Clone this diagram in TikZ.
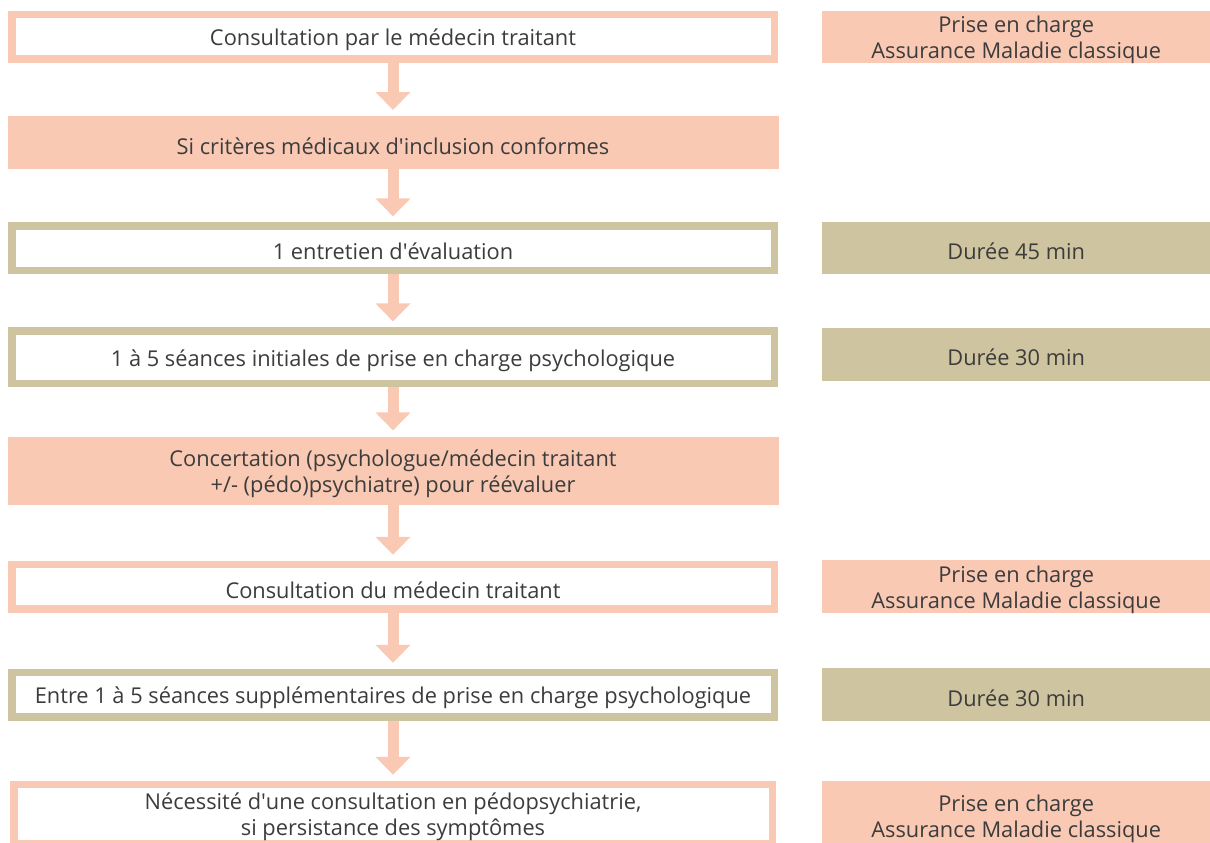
\documentclass[tikz,border=0pt]{standalone}
\usepackage{fontspec}
\setmainfont{Open Sans}
\usetikzlibrary{arrows.meta,positioning}

\definecolor{saumon}{HTML}{F9C9B4}
\definecolor{sable}{HTML}{CEC4A0}
\definecolor{texte}{HTML}{3C3C3C}
\newcommand{\apos}{\textquotesingle}
\newcommand{\haut}{\rule{0pt}{23pt}}

\begin{document}
\begin{tikzpicture}[x=1pt,y=-1pt,node distance=53pt,
    every node/.style={text=texte,font=\fontsize{21.8}{26}\selectfont,align=center,
      execute at begin node={\haut}},
    etape/.style={draw=#1,line width=7.5pt,fill=white,minimum width=762.5pt,minimum height=44.5pt},
    bloc/.style={fill=saumon,minimum width=771pt,minimum height=53pt},
    note/.style={fill=#1,minimum width=388pt,minimum height=52pt},
    lignes/.style 2 args={inner ysep=0pt,text height=#1,text depth=#2},
    fleche/.style={draw=saumon,line width=11pt,-{Triangle[width=34pt,length=18pt]},shorten >=6pt}]
    \useasboundingbox (0,0) rectangle (1210,843);

    \node[etape=saumon] (c1) at (393,37) {Consultation par le médecin traitant};
    \node[bloc] (c2) [below=of c1] {Si critères médicaux d\apos inclusion conformes};
    \node[etape=sable] (c3) [below=of c2] {1 entretien d\apos évaluation};
    \node[etape=sable,minimum height=52.5pt] (c4) [below=of c3] {1 à 5 séances initiales de prise en charge psychologique};
    \node[bloc,minimum height=68pt,lignes={56pt}{12pt}] (c5) [below=49pt of c4] {Concertation (psychologue/médecin traitant\\+/- (pédo)psychiatre) pour réévaluer};
    \node[etape=saumon] (c6) [below=56pt of c5] {Consultation du médecin traitant};
    \node[etape=sable] (c7) [below=56pt of c6] {Entre 1 à 5 séances supplémentaires de prise en charge psychologique};
    \node[etape=saumon,minimum width=758.5pt,minimum height=59.5pt,lignes={51pt}{8.5pt}] (c8) [below=60pt of c7] {Nécessité d\apos une consultation en pédopsychiatrie,\\si persistance des symptômes};

    \node[note=saumon,lignes={48pt}{4pt}] (r1) [right=44pt of c1] {Prise en charge\\Assurance Maladie classique};
    \node[note=sable] (r3) [right=44pt of c3] {Durée 45 min};
    \node[note=sable,minimum height=53pt] (r4) [right=44pt of c4.north east,anchor=north west] {Durée 30 min};
    \node[note=saumon,minimum height=53pt,lignes={48pt}{5pt}] (r6) [right=44pt of c6] {Prise en charge\\Assurance Maladie classique};
    \node[note=sable,minimum height=53pt] (r7) [right=44pt of c7] {Durée 30 min};
    \node[note=saumon,minimum height=70pt,lignes={56pt}{14pt}] (r8) [right=46pt of c8.north east,anchor=north west] {Prise en charge\\Assurance Maladie classique};

    \foreach \a/\b in {c1/c2,c2/c3,c3/c4,c4/c5,c5/c6,c6/c7,c7/c8}
      \draw[fleche] (\a) -- (\b);
\end{tikzpicture}
\end{document}
